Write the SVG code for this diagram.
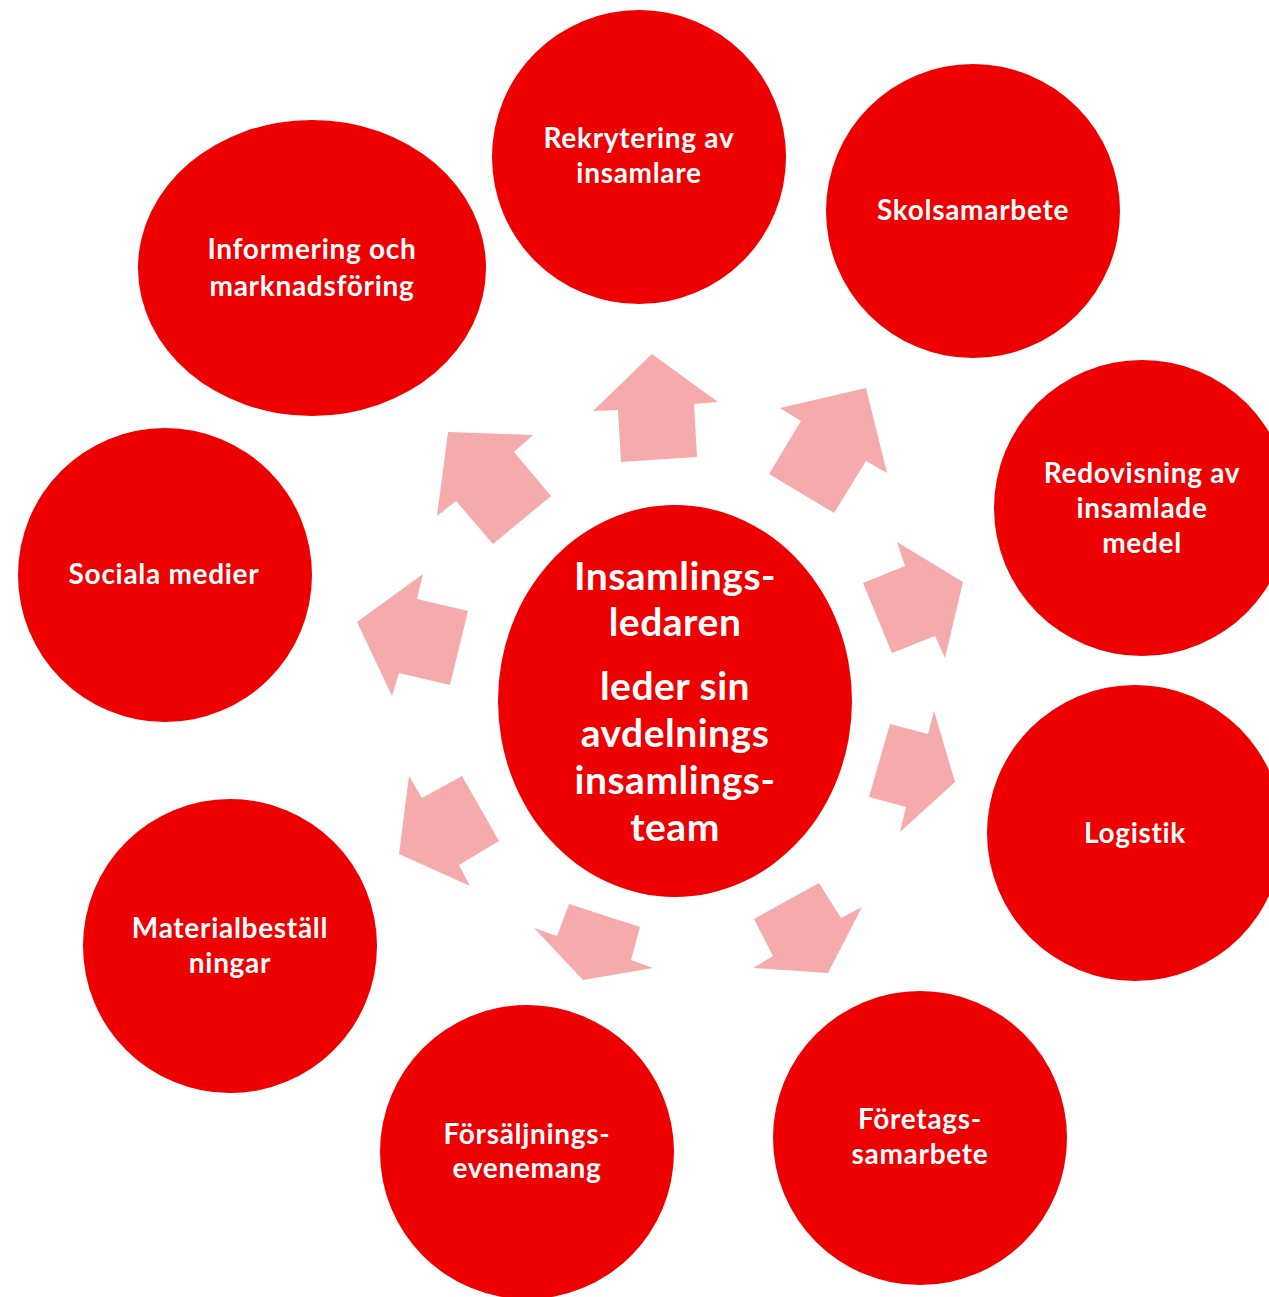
<svg xmlns="http://www.w3.org/2000/svg" width="1269" height="1297" viewBox="0 0 1269 1297">
<style>
.node{fill:#EE0000}
.arr{fill:#F5ABAB}
text{font-family:Lato,"Open Sans","Liberation Sans",sans-serif;font-weight:bold;fill:#FFFFFF;text-anchor:middle}
.t{font-size:28px;letter-spacing:0.7px}
.c{font-size:39px;letter-spacing:0.5px}
</style>
<rect width="1269" height="1297" fill="#FFFFFF"/>
<g id="connectors">
<polygon class="arr" points="652,354 718,402 694,404 697,457 621,462 618,410 593,411"/>
<polygon class="arr" points="866,388 887,473 866,461 834,513 769,474 801,421 780,408"/>
<polygon class="arr" points="897,542 963,582 945,658 935,636 892,653 863,583 905,566"/>
<polygon class="arr" points="934,711 955,782 900,832 906,807 869,797 890,724 928,734"/>
<polygon class="arr" points="754,919 819,883 841,918 862,907 828,973 753,968 773,956"/>
<polygon class="arr" points="569,904 640,927 631,960 653,968 583,980 534,928 557,936"/>
<polygon class="arr" points="409,776 422,798 462,776 499,841 459,865 470,886 399,854"/>
<polygon class="arr" points="357,622 423,574 417,599 468,611 450,685 399,673 392,696"/>
<polygon class="arr" points="448,432 533,435 514,452 551,496 493,544 456,501 437,516"/>
</g>
<g id="center">
<ellipse class="node" cx="675" cy="701" rx="177" ry="196"/>
<text class="c"><tspan x="675" y="590">Insamlings-</tspan><tspan x="675" y="636">ledaren</tspan><tspan x="675" y="700">leder sin</tspan><tspan x="675" y="747">avdelnings</tspan><tspan x="675" y="794">insamlings-</tspan><tspan x="675" y="841">team</tspan></text>
</g>
<g id="rekrytering">
<circle class="node" cx="639" cy="157" r="147"/>
<text class="t"><tspan x="639" y="148">Rekrytering av</tspan><tspan x="639" y="183">insamlare</tspan></text>
</g>
<g id="skolsamarbete">
<circle class="node" cx="973" cy="211" r="147"/>
<text class="t"><tspan x="973" y="220">Skolsamarbete</tspan></text>
</g>
<g id="redovisning">
<circle class="node" cx="1142" cy="508" r="148"/>
<text class="t"><tspan x="1142" y="483">Redovisning av</tspan><tspan x="1142" y="518">insamlade</tspan><tspan x="1142" y="553">medel</tspan></text>
</g>
<g id="logistik">
<circle class="node" cx="1135" cy="833" r="148"/>
<text class="t"><tspan x="1135" y="843">Logistik</tspan></text>
</g>
<g id="foretags">
<circle class="node" cx="920" cy="1138" r="147"/>
<text class="t"><tspan x="920" y="1129">Företags-</tspan><tspan x="920" y="1164">samarbete</tspan></text>
</g>
<g id="forsaljnings">
<circle class="node" cx="527" cy="1152" r="147"/>
<text class="t"><tspan x="527" y="1144">Försäljnings-</tspan><tspan x="527" y="1178">evenemang</tspan></text>
</g>
<g id="material">
<circle class="node" cx="230" cy="946" r="147"/>
<text class="t"><tspan x="230" y="938">Materialbeställ</tspan><tspan x="230" y="973">ningar</tspan></text>
</g>
<g id="sociala">
<circle class="node" cx="165" cy="575" r="147"/>
<text class="t"><tspan x="164" y="584">Sociala medier</tspan></text>
</g>
<g id="informering">
<ellipse class="node" cx="312" cy="268" rx="174" ry="148"/>
<text class="t"><tspan x="312" y="259">Informering och</tspan><tspan x="312" y="296">marknadsföring</tspan></text>
</g>
</svg>
